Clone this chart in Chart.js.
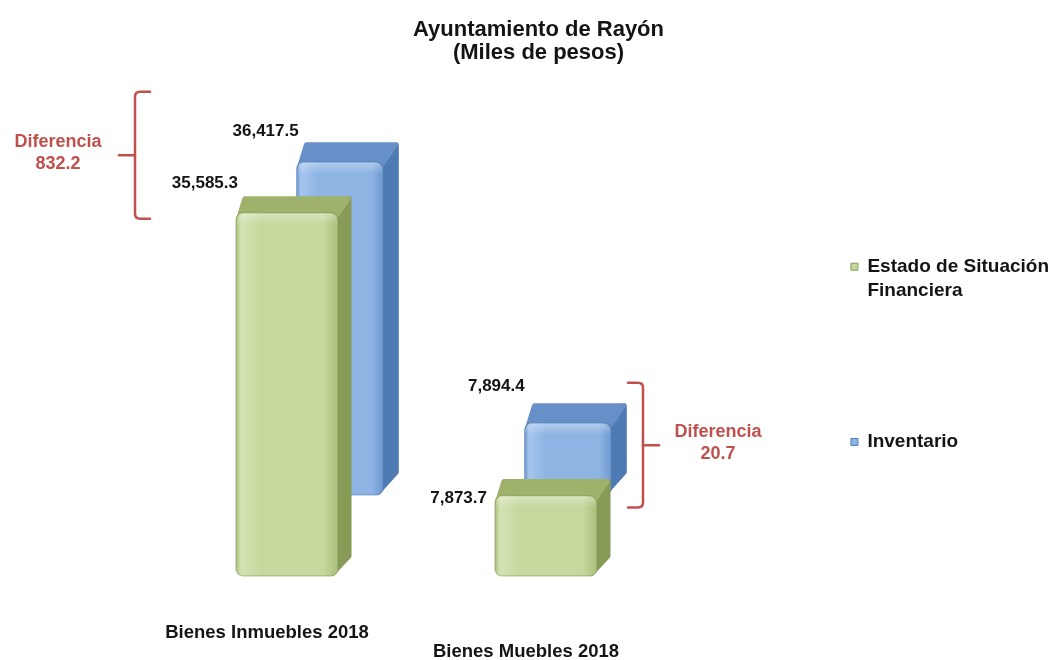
<!DOCTYPE html>
<html>
<head>
<meta charset="utf-8">
<script src="https://cdn.jsdelivr.net/npm/chart.js@4.4.1/dist/chart.umd.min.js"></script>
<style>
  html, body { margin: 0; padding: 0; background: #ffffff; }
  #wrap { width: 1053px; height: 660px; position: relative; }
</style>
</head>
<body>
<div id="wrap"><canvas id="c" width="1053" height="660"></canvas></div>
<script>
// ---------------- data ----------------
const categories = ['Bienes Inmuebles 2018', 'Bienes Muebles 2018'];
const seriesNames = ['Estado de Situación Financiera', 'Inventario'];
const estadoValues = [35585.3, 7873.7];
const inventarioValues = [36417.5, 7894.4];
const titleLines = ['Ayuntamiento de Rayón', '(Miles de pesos)'];
const diffWord = 'Diferencia';

// ---------------- styling ----------------
const FONT = '"Liberation Sans", Arial, Helvetica, sans-serif';
const TEXT = '#141414';
const RED = '#c0504d';

const STYLE3D = [
  { front: '#c5d89d', light: '#d4e3b3', dark: '#a9bf7b', top: '#9fb26c', side: '#879b57', edge: 'rgba(120,140,75,0.55)', dx: 13, dy: 17, r: 7 },
  { front: '#8db4e3', light: '#a5c5ee', dark: '#7099cf', top: '#6690c7', side: '#4f7bb4', edge: 'rgba(70,110,170,0.55)', dx: 15, dy: 20, r: 7 }
];

// pixel frames of the (hidden) perspective axes
const FRAMES = {
  x:  { left: 157.5, right: 675.5, top: 576 },
  y:  { top: 167.6, bottom: 576 },
  x2: { left: 226, right: 682 },
  y2: { top: 129, bottom: 495 }
};

// value label placement relative to bar front face (per dataset, per category)
const LABEL_DX = [[2, -8], [2, 0]];
const LABEL_DY = [[-29, 3], [-30, -36]];

// difference brackets
const BRACKETS = [
  { dx: -152, topFromBack: -50, bottomFromFront: 6, dir: -1, textDx: -77 },
  { dx: 97, topFromBack: -20, bottomFromFront: 12, dir: 1, textDx: 75 }
];

const fmt = v => v.toLocaleString('en-US', { minimumFractionDigits: 1, maximumFractionDigits: 1 });

function wrapWords(s, maxLen) {
  const words = s.split(' ');
  const lines = [];
  let cur = '';
  words.forEach(w => {
    const t = cur ? cur + ' ' + w : w;
    if (t.length > maxLen && cur) { lines.push(cur); cur = w; } else { cur = t; }
  });
  if (cur) lines.push(cur);
  return lines;
}

// ---------------- plugins ----------------
const framePlugin = {
  id: 'frames',
  afterLayout(chart) {
    for (const [id, f] of Object.entries(FRAMES)) {
      const s = chart.scales[id];
      if (!s) continue;
      if ('left' in f) { s.left = f.left; s.right = f.right; s.width = f.right - f.left; }
      if ('top' in f) {
        const h = ('bottom' in f) ? f.bottom - f.top : s.height;
        s.top = f.top; s.bottom = f.top + h; s.height = h;
      }
      s.configure();
    }
  }
};

function roundPoly(ctx, pts, color) {
  ctx.beginPath();
  ctx.moveTo(pts[0][0], pts[0][1]);
  for (let i = 1; i < pts.length; i++) ctx.lineTo(pts[i][0], pts[i][1]);
  ctx.closePath();
  ctx.fillStyle = color;
  ctx.strokeStyle = color;
  ctx.lineJoin = 'round';
  ctx.lineWidth = 5;
  ctx.fill();
  ctx.stroke();
}

const bars3d = {
  id: 'bars3d',
  afterDatasetDraw(chart, args) {
    const st = STYLE3D[args.index];
    const ctx = chart.ctx;
    args.meta.data.forEach(el => {
      const { x, y, base, width } = el.getProps(['x', 'y', 'base', 'width'], true);
      const x0 = x - width / 2, x1 = x + width / 2;
      ctx.save();
      // side face
      roundPoly(ctx, [[x1 - 5, y + 3], [x1 + st.dx - 2, y - st.dy + 3], [x1 + st.dx - 2, base - st.dy - 3], [x1 - 5, base - 3]], st.side);
      // top face (perspective trapezoid)
      roundPoly(ctx, [[x0 + 3, y + 5], [x0 + st.dx * 0.45 + 3, y - st.dy + 3], [x1 + st.dx - 3, y - st.dy + 3], [x1 - 3, y + 5]], st.top);
      // front face
      const g = ctx.createLinearGradient(x0, 0, x1, 0);
      g.addColorStop(0, st.dark);
      g.addColorStop(0.05, st.light);
      g.addColorStop(0.25, st.front);
      g.addColorStop(0.86, st.front);
      g.addColorStop(1, st.dark);
      ctx.beginPath();
      ctx.roundRect(x0, y, width, base - y, st.r);
      ctx.fillStyle = g;
      ctx.fill();
      ctx.lineWidth = 1;
      ctx.strokeStyle = st.edge;
      ctx.stroke();
      // soft top highlight
      const gv = ctx.createLinearGradient(0, y, 0, y + 12);
      gv.addColorStop(0, 'rgba(255,255,255,0.35)');
      gv.addColorStop(1, 'rgba(255,255,255,0)');
      ctx.beginPath();
      ctx.roundRect(x0 + 1, y + 1, width - 2, Math.min(12, base - y - 1), [st.r, st.r, 0, 0]);
      ctx.fillStyle = gv;
      ctx.fill();
      ctx.restore();
    });
  }
};

const valueLabels = {
  id: 'valueLabels',
  afterDatasetsDraw(chart) {
    const ctx = chart.ctx;
    ctx.save();
    ctx.font = 'bold 17px ' + FONT;
    ctx.fillStyle = TEXT;
    ctx.textAlign = 'right';
    ctx.textBaseline = 'middle';
    chart.data.datasets.forEach((ds, i) => {
      chart.getDatasetMeta(i).data.forEach((el, j) => {
        const { x, y, width } = el.getProps(['x', 'y', 'width'], true);
        ctx.fillText(fmt(ds.data[j]), x - width / 2 + LABEL_DX[i][j], y + LABEL_DY[i][j]);
      });
    });
    ctx.restore();
  }
};

const diffBrackets = {
  id: 'diffBrackets',
  afterDatasetsDraw(chart) {
    const ctx = chart.ctx;
    const front = chart.getDatasetMeta(0).data;
    const back = chart.getDatasetMeta(1).data;
    ctx.save();
    BRACKETS.forEach((b, j) => {
      const f = front[j].getProps(['x', 'y'], true);
      const k = back[j].getProps(['x', 'y'], true);
      const x = f.x + b.dx;
      const top = k.y - STYLE3D[1].dy + b.topFromBack;
      const bottom = f.y + b.bottomFromFront;
      const mid = (top + bottom) / 2;
      const hd = -b.dir; // hooks direction
      ctx.strokeStyle = RED;
      ctx.lineWidth = 2.5;
      ctx.lineCap = 'round';
      ctx.beginPath();
      ctx.moveTo(x + hd * 15, top);
      ctx.lineTo(x + hd * 5, top);
      ctx.quadraticCurveTo(x, top, x, top + 5);
      ctx.lineTo(x, bottom - 5);
      ctx.quadraticCurveTo(x, bottom, x + hd * 5, bottom);
      ctx.lineTo(x + hd * 15, bottom);
      ctx.stroke();
      ctx.beginPath();
      ctx.moveTo(x, mid);
      ctx.lineTo(x + b.dir * 16, mid);
      ctx.stroke();
      const diff = chart.data.datasets[1].data[j] - chart.data.datasets[0].data[j];
      ctx.fillStyle = RED;
      ctx.font = 'bold 18px ' + FONT;
      ctx.textAlign = 'center';
      ctx.textBaseline = 'middle';
      ctx.fillText(diffWord, x + b.textDx, mid - 13);
      ctx.fillText(fmt(diff), x + b.textDx, mid + 9);
    });
    ctx.restore();
  }
};

// ---------------- chart ----------------
Chart.defaults.font.family = FONT;
new Chart(document.getElementById('c'), {
  type: 'bar',
  data: {
    labels: categories,
    datasets: [
      {
        label: seriesNames[0], data: estadoValues, xAxisID: 'x', yAxisID: 'y',
        backgroundColor: 'rgba(0,0,0,0)', borderWidth: 0,
        categoryPercentage: 1, barPercentage: 0.394, clip: false
      },
      {
        label: seriesNames[1], data: inventarioValues, xAxisID: 'x2', yAxisID: 'y2',
        backgroundColor: 'rgba(0,0,0,0)', borderWidth: 0,
        categoryPercentage: 1, barPercentage: 0.38, clip: false
      }
    ]
  },
  options: {
    responsive: false,
    animation: false,
    devicePixelRatio: 1,
    grouped: false,
    layout: { padding: { left: 18, right: -6, top: 0, bottom: 0 } },
    scales: {
      x: {
        type: 'category', offset: true,
        grid: { display: false, drawTicks: false }, border: { display: false },
        ticks: {
          color: TEXT, padding: 47, labelOffset: -20, maxRotation: 0, minRotation: 0, autoSkip: false,
          font: { family: FONT, size: 18.5, weight: 'bold', lineHeight: 1.03 },
          callback: function (v, i) { const l = this.getLabelForValue(v); return i % 2 === 1 ? ['', l] : l; }
        }
      },
      y: { type: 'linear', display: false, min: 0, max: 40000 },
      x2: { type: 'category', display: false, offset: true },
      y2: { type: 'linear', display: false, min: 0, max: 40000 }
    },
    plugins: {
      title: {
        display: true, text: titleLines, color: TEXT,
        font: { family: FONT, size: 22, weight: 'bold', lineHeight: 1.05 },
        padding: { top: 18, bottom: 184 }
      },
      legend: {
        position: 'right', align: 'start', fullSize: false,
        labels: {
          boxWidth: 7, boxHeight: 7, padding: 9, color: TEXT,
          font: { family: FONT, size: 19, weight: 'bold', lineHeight: 1.25 },
          generateLabels: (chart) => chart.data.datasets.map((ds, i) => ({
            text: i === 0 ? wrapWords(ds.label, 20).concat(['', '', '', '', '']) : ds.label,
            fillStyle: STYLE3D[i].front,
            strokeStyle: STYLE3D[i].side,
            lineWidth: 1,
            fontColor: TEXT,
            hidden: false,
            datasetIndex: i
          }))
        }
      },
      tooltip: { enabled: false }
    }
  },
  plugins: [framePlugin, bars3d, valueLabels, diffBrackets]
});
</script>
</body>
</html>
